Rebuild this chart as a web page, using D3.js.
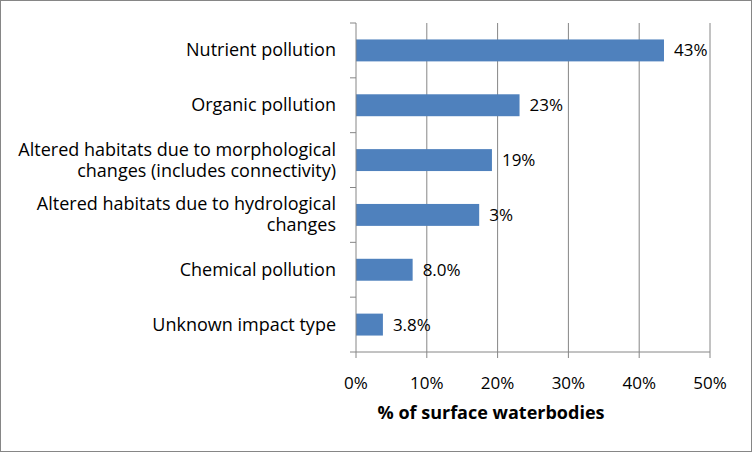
<!DOCTYPE html>
<html><head><meta charset="utf-8">
<script src="https://cdn.jsdelivr.net/npm/d3@7"></script>
<style>body{margin:0;background:#fff}text{font-family:"Open Sans","Liberation Sans",sans-serif}</style>
</head><body><svg id="c" width="752" height="452"></svg>
<script>
// categories, values and their printed labels
var categories = ["Nutrient pollution", "Organic pollution",
  "Altered habitats due to morphological|changes (includes connectivity)",
  "Altered habitats due to hydrological|changes", "Chemical pollution", "Unknown impact type"];
var values = [43.5, 23.1, 19.2, 17.4, 8.0, 3.8];
var valueLabels = ["43%", "23%", "19%", "3%", "8.0%", "3.8%"];
var xTicks = [0, 10, 20, 30, 40, 50];

var svg = d3.select("#c");
svg.append("rect").attr("x", 0.5).attr("y", 0.5).attr("width", 751).attr("height", 451)
  .attr("fill", "#fff").attr("stroke", "#868686");

var x = d3.scaleLinear().domain([0, 50]).range([356, 710]);
var y = d3.scaleBand().domain(categories).range([23, 352]).paddingInner(0.6).paddingOuter(0.3);
var band = d3.scaleBand().domain(categories).range([23, 352]);

// gridlines
svg.selectAll(".grid").data(xTicks.slice(1)).enter().append("line")
  .attr("x1", d => x(d)).attr("x2", d => x(d)).attr("y1", 23).attr("y2", 352)
  .attr("stroke", "#868686");

// bars
svg.selectAll(".bar").data(values).enter().append("rect")
  .attr("x", x(0)).attr("y", (d, i) => y(categories[i]))
  .attr("width", d => x(d) - x(0)).attr("height", y.bandwidth())
  .attr("fill", "#4f81bd");

svg.selectAll(".val").data(values).enter().append("text")
  .attr("x", d => x(d) + 10).attr("y", (d, i) => y(categories[i]) + y.bandwidth() / 2 + 6)
  .attr("font-size", 17).attr("fill", "#000").text((d, i) => valueLabels[i]);

// y axis line and ticks
svg.append("line").attr("x1", 356).attr("x2", 356).attr("y1", 23).attr("y2", 352).attr("stroke", "#868686");
svg.selectAll(".yt").data(categories.concat(["end"])).enter().append("line")
  .attr("x1", 350).attr("x2", 356)
  .attr("y1", (d, i) => 23 + i * band.bandwidth()).attr("y2", (d, i) => 23 + i * band.bandwidth())
  .attr("stroke", "#868686");
svg.append("line").attr("x1", 356).attr("x2", 710).attr("y1", 352).attr("y2", 352).attr("stroke", "#868686");
svg.selectAll(".xt").data(xTicks).enter().append("line")
  .attr("x1", d => x(d)).attr("x2", d => x(d)).attr("y1", 352).attr("y2", 358).attr("stroke", "#868686");

// category labels
categories.forEach(function (c) {
  var lines = c.split("|");
  var cy = band(c) + band.bandwidth() / 2;
  var t = svg.append("text").attr("text-anchor", "end").attr("font-size", 18).attr("fill", "#000");
  lines.forEach(function (l, j) {
    t.append("tspan").attr("x", 336)
      .attr("y", cy + 6 + (j - (lines.length - 1) / 2) * 21).text(l);
  });
});

// x tick labels
svg.selectAll(".xl").data(xTicks).enter().append("text")
  .attr("x", d => x(d)).attr("y", 389).attr("text-anchor", "middle")
  .attr("font-size", 17).text(d => d + "%");

svg.append("text").attr("x", 491).attr("y", 419).attr("text-anchor", "middle")
  .attr("font-size", 18).attr("font-weight", "bold").text("% of surface waterbodies");
</script></body></html>
